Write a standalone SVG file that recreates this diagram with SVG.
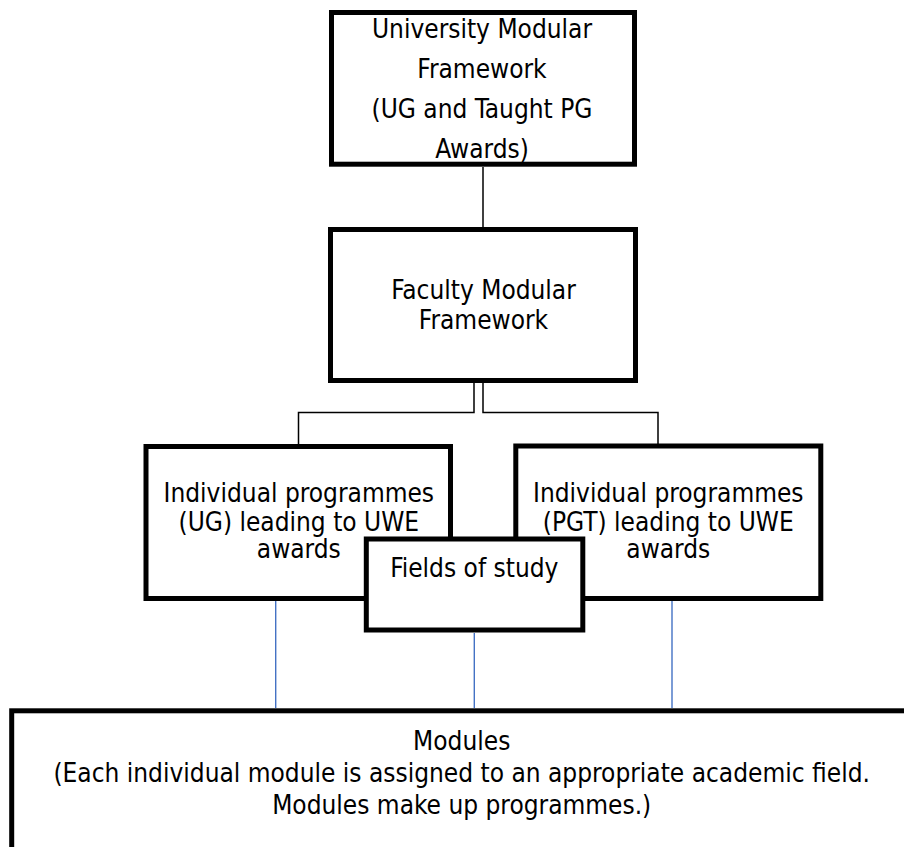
<svg xmlns="http://www.w3.org/2000/svg" width="904" height="847" viewBox="0 0 904 847">
<style>
.box{fill:#fff;stroke:#000;stroke-width:5}
.t{font-family:"DejaVu Sans Condensed","DejaVu Sans",Verdana,sans-serif;font-stretch:condensed;font-size:26px;fill:#000;text-anchor:middle}
.c{fill:none;stroke:#000;stroke-width:1.5}
.b{fill:none;stroke:#4472C4;stroke-width:1.4}
</style>
<rect width="904" height="847" fill="#fff"/>
<g id="connectors">
<path class="c" d="M483 167V227"/>
<path class="c" d="M474 383V412.5H298.5V444"/>
<path class="c" d="M483 383V412.5H658V444"/>
<path class="b" d="M275.7 601V708"/>
<path class="b" d="M474.3 633V708"/>
<path class="b" d="M672 601V708"/>
</g>
<g id="university">
<rect class="box" x="331.5" y="12.5" width="303" height="151.7"/>
<text class="t" x="482" y="37.5">University Modular</text>
<text class="t" x="482" y="77.5">Framework</text>
<text class="t" x="482" y="117.7">(UG and Taught PG</text>
<text class="t" x="482" y="157.7">Awards)</text>
</g>
<g id="faculty">
<rect class="box" x="330.5" y="229.5" width="305" height="151"/>
<text class="t" x="483.5" y="299.3">Faculty Modular</text>
<text class="t" x="483.5" y="329">Framework</text>
</g>
<g id="ug">
<rect class="box" x="146" y="446.5" width="304.5" height="152"/>
<text class="t" x="298.8" y="502">Individual programmes</text>
<text class="t" x="298.8" y="530.7">(UG) leading to UWE</text>
<text class="t" x="298.8" y="558.4">awards</text>
</g>
<g id="pgt">
<rect class="box" x="515.8" y="446" width="305" height="152.5"/>
<text class="t" x="668.3" y="502">Individual programmes</text>
<text class="t" x="668.3" y="530.7">(PGT) leading to UWE</text>
<text class="t" x="668.3" y="558.4">awards</text>
</g>
<g id="fields">
<rect class="box" x="366.3" y="539" width="216.5" height="91"/>
<text class="t" x="474.3" y="576.5">Fields of study</text>
</g>
<g id="modules">
<rect class="box" x="11.7" y="710.8" width="1000" height="300"/>
<text class="t" x="461.7" y="749.5">Modules</text>
<text class="t" x="461.7" y="781.7">(Each individual module is assigned to an appropriate academic field.</text>
<text class="t" x="461.7" y="814">Modules make up programmes.)</text>
</g>
</svg>
